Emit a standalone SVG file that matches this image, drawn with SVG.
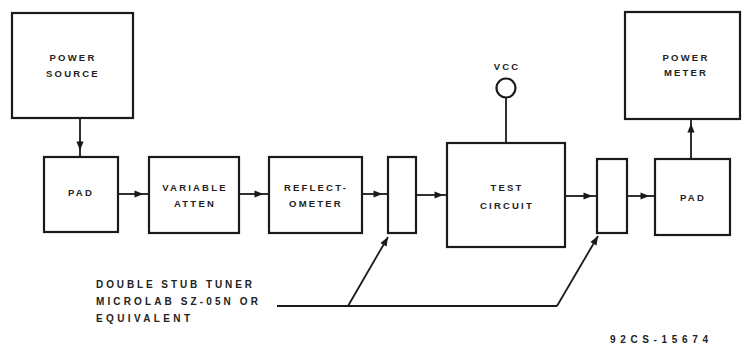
<svg xmlns="http://www.w3.org/2000/svg" width="742" height="349" viewBox="0 0 742 349">
<style>
.box{fill:#fff;stroke:#1a1a1a;stroke-width:2.2}
.ln{fill:none;stroke:#1a1a1a;stroke-width:1.8}
.t{font-family:"Liberation Sans",Arial,sans-serif;font-size:9.5px;font-weight:bold;fill:#222;letter-spacing:2.2px;text-anchor:middle;dominant-baseline:central}
.lt{font-family:"Liberation Sans",Arial,sans-serif;font-size:10px;font-weight:bold;fill:#222;dominant-baseline:central}
</style>
<defs>
<marker id="ah" viewBox="0 0 10 10" refX="5" refY="5" markerWidth="11" markerHeight="9" markerUnits="userSpaceOnUse" orient="auto">
<path d="M0,1 L10,5 L0,9 Z" fill="#1a1a1a"/>
</marker>
<marker id="ahe" viewBox="0 0 10 10" refX="10" refY="5" markerWidth="11" markerHeight="9" markerUnits="userSpaceOnUse" orient="auto">
<path d="M0,1 L10,5 L0,9 Z" fill="#1a1a1a"/>
</marker>
</defs>
<rect width="742" height="349" fill="#fff"/>
<g id="connectors">
<path class="ln" d="M80,118 L80,146 L80,157" marker-mid="url(#ah)"/>
<path class="ln" d="M118,194 L139,194 L149,194" marker-mid="url(#ah)"/>
<path class="ln" d="M239,194 L259,194 L269,194" marker-mid="url(#ah)"/>
<path class="ln" d="M362,194 L378,194 L388,194" marker-mid="url(#ah)"/>
<path class="ln" d="M416,195 L439,195 L447,195" marker-mid="url(#ah)"/>
<path class="ln" d="M565,196 L588,196 L597,196" marker-mid="url(#ah)"/>
<path class="ln" d="M627,196 L645,196 L655,196" marker-mid="url(#ah)"/>
<path class="ln" d="M691,159 L691,128 L691,119" marker-mid="url(#ah)"/>
<line class="ln" x1="506" y1="98" x2="506" y2="143"/>
<path class="ln" d="M277,306 L557,306"/>
<path class="ln" d="M348,306 L388,237" marker-end="url(#ahe)"/>
<path class="ln" d="M557,306 L598,236" marker-end="url(#ahe)"/>
</g>
<g id="power-source">
<rect class="box" x="12" y="13" width="121" height="105"/>
<text class="t" x="73" y="57">POWER</text>
<text class="t" x="73" y="73">SOURCE</text>
</g>
<g id="pad1">
<rect class="box" x="44" y="157" width="74" height="75"/>
<text class="t" x="81" y="192">PAD</text>
</g>
<g id="variable-atten">
<rect class="box" x="149" y="157" width="90" height="76"/>
<text class="t" x="195" y="187">VARIABLE</text>
<text class="t" x="195" y="203">ATTEN</text>
</g>
<g id="reflectometer">
<rect class="box" x="269" y="157" width="93" height="76"/>
<text class="t" x="316" y="187">REFLECT-</text>
<text class="t" x="316" y="203">OMETER</text>
</g>
<g id="tuner1">
<rect class="box" x="388" y="157" width="28" height="76"/>
</g>
<g id="vcc">
<circle class="box" cx="506" cy="88" r="9.5" stroke-width="1.8"/>
<text class="t" x="507" y="66">VCC</text>
</g>
<g id="test-circuit">
<rect class="box" x="447" y="143" width="118" height="104"/>
<text class="t" x="507" y="187">TEST</text>
<text class="t" x="507" y="205">CIRCUIT</text>
</g>
<g id="tuner2">
<rect class="box" x="597" y="159" width="30" height="74"/>
</g>
<g id="pad2">
<rect class="box" x="655" y="159" width="75" height="76"/>
<text class="t" x="693" y="197">PAD</text>
</g>
<g id="power-meter">
<rect class="box" x="625" y="12" width="115" height="107"/>
<text class="t" x="686" y="57">POWER</text>
<text class="t" x="686" y="72">METER</text>
</g>
<g id="label">
<text class="lt" x="96" y="284" textLength="156" lengthAdjust="spacing">DOUBLE STUB TUNER</text>
<text class="lt" x="96" y="301" textLength="162" lengthAdjust="spacing">MICROLAB SZ-05N OR</text>
<text class="lt" x="96" y="318" textLength="94" lengthAdjust="spacing">EQUIVALENT</text>
<text class="lt" x="610" y="339" textLength="98" lengthAdjust="spacing">92CS-15674</text>
</g>
</svg>
